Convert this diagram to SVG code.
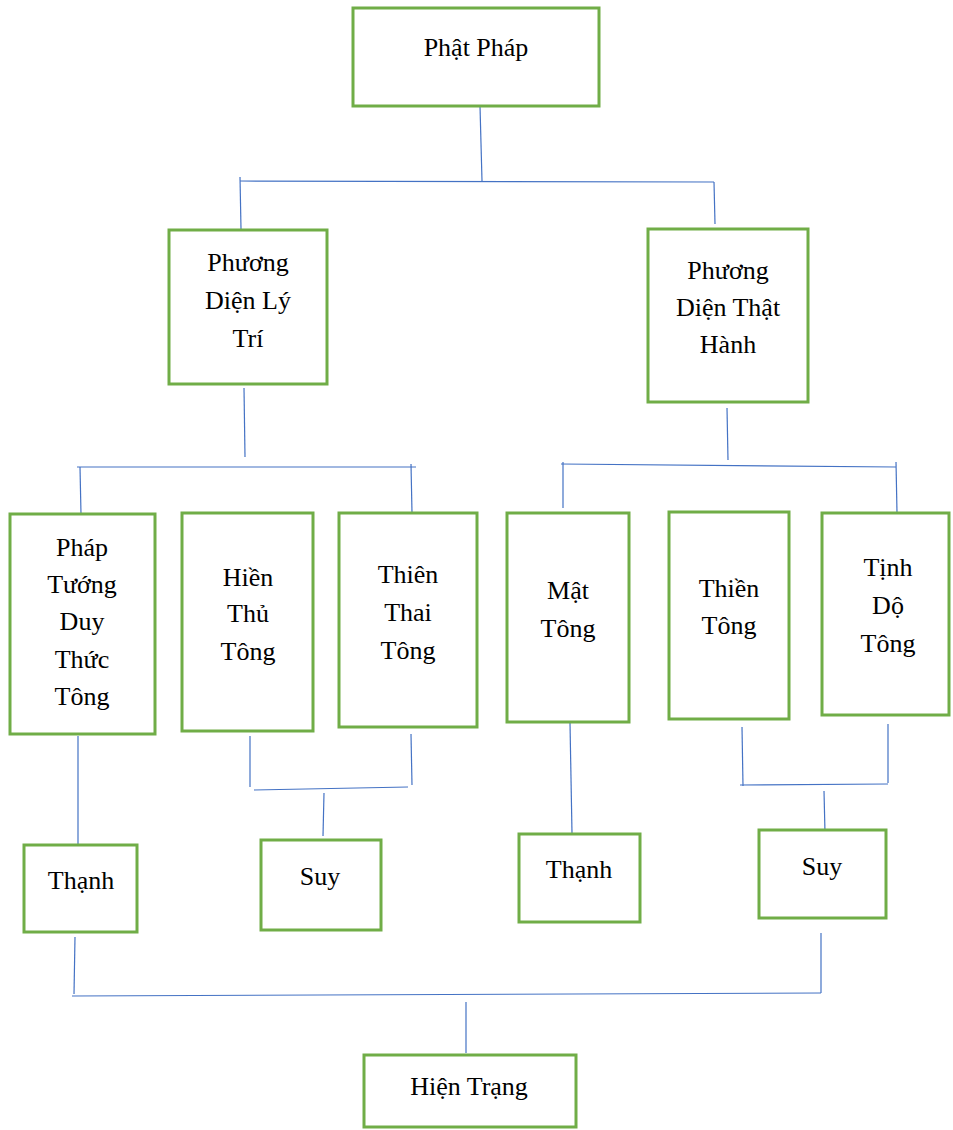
<svg xmlns="http://www.w3.org/2000/svg" width="953" height="1130" viewBox="0 0 953 1130">
<style>
.box{fill:#fff;stroke:#70AD47;stroke-width:3}
.t{font-family:"Liberation Serif","Times New Roman",serif;font-size:26px;fill:#000;text-anchor:middle}
.c line{stroke:#4472C4;stroke-width:1.2}
</style>
<rect width="953" height="1130" fill="#fff"/>
<g class="c" id="connectors">
<line x1="480" y1="106" x2="482" y2="181"/>
<line x1="240" y1="181" x2="714" y2="182"/>
<line x1="240" y1="177" x2="241" y2="229"/>
<line x1="714" y1="182" x2="715" y2="224"/>
<line x1="244" y1="388" x2="245" y2="457"/>
<line x1="77" y1="467" x2="416" y2="467"/>
<line x1="80" y1="467" x2="81" y2="514"/>
<line x1="411" y1="464" x2="412" y2="513"/>
<line x1="727" y1="408" x2="728" y2="460"/>
<line x1="561" y1="464" x2="896" y2="467"/>
<line x1="563" y1="462" x2="563" y2="508"/>
<line x1="896" y1="462" x2="897" y2="513"/>
<line x1="78" y1="736" x2="78" y2="852"/>
<line x1="250" y1="736" x2="250" y2="787"/>
<line x1="411" y1="734" x2="412" y2="785"/>
<line x1="254" y1="790" x2="408" y2="787"/>
<line x1="324" y1="793" x2="323" y2="836"/>
<line x1="570" y1="723" x2="572" y2="833"/>
<line x1="742" y1="727" x2="743" y2="786"/>
<line x1="888" y1="724" x2="888" y2="783"/>
<line x1="740" y1="785" x2="888" y2="784"/>
<line x1="824" y1="791" x2="825" y2="833"/>
<line x1="75" y1="937" x2="74" y2="994"/>
<line x1="821" y1="933" x2="821" y2="993"/>
<line x1="72" y1="996" x2="821" y2="993"/>
<line x1="466" y1="1002" x2="466" y2="1053"/>
</g>
<g id="phat-phap"><rect class="box" x="353" y="8" width="246" height="98"/><text class="t" x="476" y="56">Phật Pháp</text></g>
<g id="ly-tri"><rect class="box" x="169" y="230" width="158" height="154"/><text class="t" x="248" y="271">Phương</text><text class="t" x="248" y="309">Diện Lý</text><text class="t" x="248" y="347">Trí</text></g>
<g id="that-hanh"><rect class="box" x="648" y="229" width="160" height="173"/><text class="t" x="728" y="279">Phương</text><text class="t" x="728" y="316">Diện Thật</text><text class="t" x="728" y="353">Hành</text></g>
<g id="phap-tuong"><rect class="box" x="10" y="514" width="145" height="220"/><text class="t" x="82" y="556">Pháp</text><text class="t" x="82" y="593">Tướng</text><text class="t" x="82" y="630">Duy</text><text class="t" x="82" y="668">Thức</text><text class="t" x="82" y="705">Tông</text></g>
<g id="hien-thu"><rect class="box" x="182" y="513" width="131" height="218"/><text class="t" x="248" y="586">Hiền</text><text class="t" x="248" y="622">Thủ</text><text class="t" x="248" y="660">Tông</text></g>
<g id="thien-thai"><rect class="box" x="339" y="513" width="138" height="214"/><text class="t" x="408" y="583">Thiên</text><text class="t" x="408" y="621">Thai</text><text class="t" x="408" y="659">Tông</text></g>
<g id="mat-tong"><rect class="box" x="507" y="513" width="122" height="209"/><text class="t" x="568" y="599">Mật</text><text class="t" x="568" y="637">Tông</text></g>
<g id="thien-tong"><rect class="box" x="669" y="512" width="120" height="207"/><text class="t" x="729" y="597">Thiền</text><text class="t" x="729" y="634">Tông</text></g>
<g id="tinh-do"><rect class="box" x="822" y="513" width="127" height="202"/><text class="t" x="888" y="576">Tịnh</text><text class="t" x="888" y="614">Dộ</text><text class="t" x="888" y="652">Tông</text></g>
<g id="thanh-1"><rect class="box" x="24" y="845" width="113" height="87"/><text class="t" x="81" y="889">Thạnh</text></g>
<g id="suy-1"><rect class="box" x="261" y="840" width="120" height="90"/><text class="t" x="320" y="885">Suy</text></g>
<g id="thanh-2"><rect class="box" x="519" y="834" width="121" height="88"/><text class="t" x="579" y="878">Thạnh</text></g>
<g id="suy-2"><rect class="box" x="759" y="830" width="127" height="88"/><text class="t" x="822" y="875">Suy</text></g>
<g id="hien-trang"><rect class="box" x="364" y="1055" width="212" height="72"/><text class="t" x="469" y="1095">Hiện Trạng</text></g>
</svg>
